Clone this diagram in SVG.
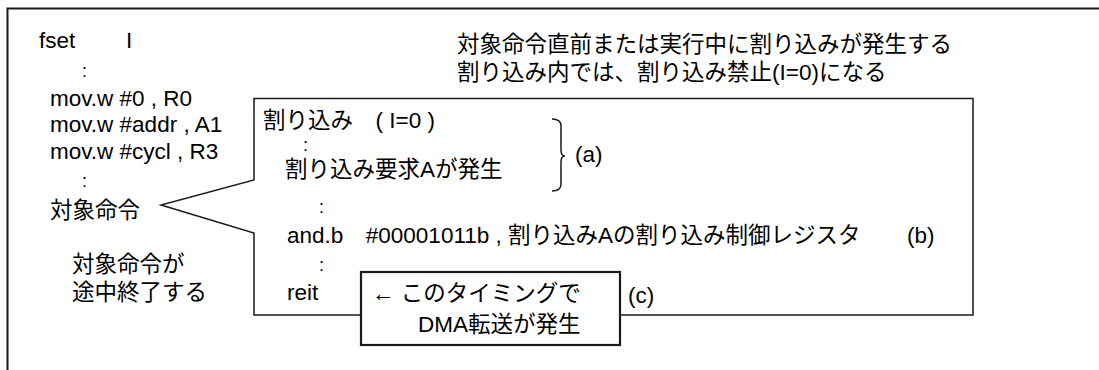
<svg xmlns="http://www.w3.org/2000/svg" width="1099" height="370" viewBox="0 0 1099 370">
<style>
  text { font-family: "Liberation Sans", "Noto Sans CJK JP", sans-serif; font-size: 22.5px; fill: #000; }
  text.col { font-size: 18px; }
  .ln { fill: none; stroke: #1a1a1a; stroke-width: 1.5; }
  .frm { fill: none; stroke: #1a1a1a; stroke-width: 2; }
  .box { fill: #fff; stroke: #1a1a1a; stroke-width: 2.2; }
</style>
<rect width="1099" height="370" fill="#fff"/>
<g id="frame">
  <path class="frm" d="M7.5,380 V8.5 H1110"/>
</g>
<g id="code-main">
  <text x="39" y="48">fset</text>
  <text x="126" y="48">I</text>
  <text class="col" x="82" y="77">:</text>
  <text x="50" y="106">mov.w #0 , R0</text>
  <text x="50" y="132">mov.w #addr , A1</text>
  <text x="50" y="159">mov.w #cycl , R3</text>
  <text class="col" x="82" y="187">:</text>
  <text x="50" y="218">対象命令</text>
  <text x="72" y="272">対象命令が</text>
  <text x="72" y="300">途中終了する</text>
</g>
<g id="note-top">
  <text x="457" y="52">対象命令直前または実行中に割り込みが発生する</text>
  <text x="457" y="80">割り込み内では、割り込み禁止(I=0)になる</text>
</g>
<g id="connectors">
  <path id="callout" class="ln" fill="#fff" d="M254,98.5 H973 V315 H254 V233 L161,205 L254,180 Z"/>
  <path id="brace-a" class="ln" d="M552,119 Q561,119 561,126 V150 Q561,156 565,156 Q561,156 561,162 V184 Q561,191 552,191"/>
</g>
<g id="interrupt">
  <text x="263" y="128">割り込み　( I=0 )</text>
  <text class="col" x="303" y="151">:</text>
  <text x="285" y="177">割り込み要求Aが発生</text>
  <text x="575" y="162">(a)</text>
  <text class="col" x="319" y="213">:</text>
  <text x="287" y="243">and.b　#00001011b , 割り込みAの割り込み制御レジスタ</text>
  <text x="907" y="243">(b)</text>
  <text class="col" x="319" y="271">:</text>
  <text x="287" y="300">reit</text>
  <text x="628" y="303">(c)</text>
</g>
<g id="dma">
  <rect class="box" x="361" y="272" width="259" height="73"/>
  <text x="372" y="301">← このタイミングで</text>
  <text x="418" y="332">DMA転送が発生</text>
</g>
</svg>
